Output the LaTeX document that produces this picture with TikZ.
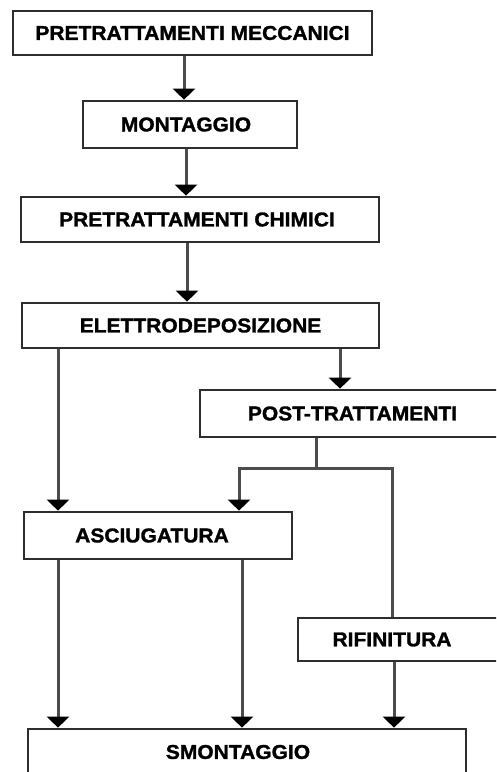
\documentclass[tikz,border=0pt]{standalone}
\usepackage{fontspec}
\setmainfont{Liberation Sans}[FakeStretch=1.05,BoldFeatures={FakeBold=1.4}]
\usetikzlibrary{arrows.meta}
\begin{document}
\begin{tikzpicture}[x=1pt,y=-1pt,
  stepbox/.style={draw=black!82,line width=2.7pt,fill=white,inner sep=0pt,
    font=\fontsize{20}{22}\selectfont\bfseries,anchor=center},
  conn/.style={draw=black!70,line width=3pt},
  arr/.style={conn,-{Triangle[width=22pt,length=11pt,fill=black,color=black]}}]
\useasboundingbox (0,0) rectangle (496,772);
\clip (0,0) rectangle (496,772);
\node[stepbox,minimum width=359pt,minimum height=44pt] (b1) at (192.5,33) {PRETRATTAMENTI MECCANICI};
\node[stepbox,minimum width=214pt,minimum height=47pt] (b2) at (190,124.5) {MONTAGGIO\kern8pt};
\node[stepbox,minimum width=358pt,minimum height=45pt] (b3) at (200,219.5) {PRETRATTAMENTI CHIMICI\kern6pt};
\node[stepbox,minimum width=357pt,minimum height=45pt] (b4) at (200.5,325.5) {ELETTRODEPOSIZIONE};
\node[stepbox,minimum width=305pt,minimum height=47pt] (b5) at (352.5,413.5) {POST-TRATTAMENTI};
\node[stepbox,minimum width=268pt,minimum height=47pt] (b6) at (158,535.5) {ASCIUGATURA\kern12pt};
\node[stepbox,minimum width=210pt,minimum height=43pt] (b7) at (403,639.5) {RIFINITURA\kern22pt};
\node[stepbox,minimum width=438pt,minimum height=46pt] (b8) at (247,752) {SMONTAGGIO\kern18pt};
\coordinate (j) at (316,468);
\coordinate (jl) at (239,468);
\coordinate (jr) at (392,468);
\draw[arr] (b1.south -| 184,0) -- (b2.north -| 184,0);
\draw[arr] (b2.south -| 186,0) -- (b3.north -| 186,0);
\draw[arr] (b3.south -| 187,0) -- (b4.north -| 187,0);
\draw[arr] (b4.south -| 58,0) -- (b6.north -| 58,0);
\draw[arr] (b4.south -| 340,0) -- (b5.north -| 340,0);
\draw[conn] (b5.south -| j) -- (j);
\draw[conn,line cap=rect] (jl) -- (jr);
\draw[arr] (jl) -- (jl |- b6.north);
\draw[conn] (jr) -- (jr |- b7.north);
\draw[arr] (b6.south -| 58,0) -- (b8.north -| 58,0);
\draw[arr] (b6.south -| 242,0) -- (b8.north -| 242,0);
\draw[arr] (b7.south -| 394,0) -- (b8.north -| 394,0);
\end{tikzpicture}
\end{document}
